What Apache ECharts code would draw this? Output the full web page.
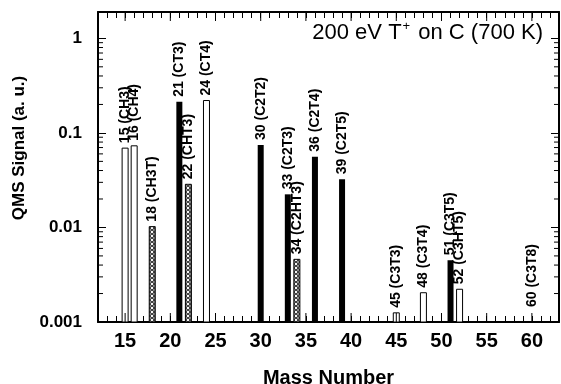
<!DOCTYPE html>
<html>
<head>
<meta charset="utf-8">
<script src="https://cdn.jsdelivr.net/npm/echarts@6/dist/echarts.min.js"></script>
<style>
  html, body { margin: 0; padding: 0; background: #fff; }
  #chart { width: 561px; height: 384px; }
</style>
</head>
<body>
<div id="chart"></div>
<script>
// mass number, species and QMS signal
const masses  = [15, 16, 18, 21, 22, 24, 30, 33, 34, 36, 39, 45, 48, 51, 52, 60];
const species = ['CH3', 'CH4', 'CH3T', 'CT3', 'CHT3', 'CT4', 'C2T2', 'C2T3', 'C2HT3', 'C2T4', 'C2T5', 'C3T3', 'C3T4', 'C3T5', 'C3HT5', 'C3T8'];
const signals = [0.069, 0.073, 0.0102, 0.213, 0.0286, 0.22, 0.0745, 0.0224, 0.0046, 0.056, 0.0323, 0.00125, 0.00204, 0.0045, 0.00222, 0.001];
const kinds   = ['open', 'open', 'hatched', 'solid', 'hatched', 'open', 'solid', 'solid', 'hatched', 'solid', 'solid', 'open', 'open', 'solid', 'open', 'open'];

const xMin = 12, xMax = 63;
const yMin = 0.001, yMax = 1.9;
const yTickLabels = ['0.001', '0.01', '0.1', '1'];

const FONT = "'Liberation Sans', Arial, sans-serif";
const BAR_W = 6;

// hatched fill (small rings)
const pat = document.createElement('canvas');
pat.width = 4; pat.height = 4;
const pc = pat.getContext('2d');
pc.fillStyle = '#fff';
pc.fillRect(0, 0, 4, 4);
pc.strokeStyle = '#000';
pc.lineWidth = 1;
pc.beginPath();
pc.arc(2, 2, 1.4, 0, Math.PI * 2);
pc.stroke();

const fills = {
    solid:   { fill: '#000', stroke: null },
    open:    { fill: '#fff', stroke: '#000' },
    hatched: { fill: { image: pat, repeat: 'repeat' }, stroke: '#000' }
};

// minor log ticks (2..9 per decade) and longer x ticks at every 5
const minorY = [];
for (let e = -3; e <= 0; e++) {
    for (let k = 2; k <= 9; k++) {
        const v = k * Math.pow(10, e);
        if (v < yMax) minorY.push([xMin, v]);
    }
}
const majorX = [];
for (let m = 15; m < xMax; m += 5) majorX.push([m, yMin]);

const chart = echarts.init(document.getElementById('chart'));

const xBase = {
    type: 'value', min: xMin, max: xMax, interval: 1,
    axisLine: { show: true, lineStyle: { color: '#000', width: 2 } },
    axisTick: { show: true, inside: true, length: 6, lineStyle: { color: '#000', width: 1 } },
    splitLine: { show: false }
};
const yBase = {
    type: 'log', logBase: 10, min: yMin, max: yMax,
    axisLine: { show: true, lineStyle: { color: '#000', width: 2 } },
    axisTick: { show: true, inside: true, length: 8, lineStyle: { color: '#000', width: 1 } },
    splitLine: { show: false }
};

// bars drawn from the axis minimum (a log bar would otherwise grow from 1)
function renderBar(params, api) {
    const i = params.dataIndex;
    const top = api.coord([api.value(0), api.value(1)]);
    const base = api.coord([api.value(0), yMin]);
    const f = fills[kinds[i]];
    const h = base[1] - top[1];
    const children = [];
    if (h > 0) {
        children.push({
            type: 'rect',
            shape: { x: top[0] - BAR_W / 2, y: top[1], width: BAR_W, height: h },
            style: { fill: f.fill, stroke: f.stroke, lineWidth: 1 }
        });
    }
    children.push({
        type: 'text',
        x: top[0],
        y: top[1] - (h > 0 ? 5 : 15),
        rotation: Math.PI / 2,
        style: {
            text: masses[i] + ' (' + species[i] + ')',
            font: 'bold 14px "Liberation Sans", Arial, sans-serif',
            align: 'left',
            verticalAlign: 'middle',
            fill: '#000'
        }
    });
    return { type: 'group', children: children };
}

chart.setOption({
    animation: false,
    backgroundColor: '#fff',
    title: {
        text: '200 eV T{sup|+} on C (700 K)',
        right: 13,
        top: 15,
        textStyle: {
            fontFamily: FONT, fontSize: 22, fontWeight: 'normal', color: '#000', lineHeight: 26,
            rich: { sup: { fontFamily: FONT, fontSize: 13, color: '#000', verticalAlign: 'top', lineHeight: 26, padding: [0, 2, 0, 1] } }
        }
    },
    grid: { left: 98, right: 2, top: 12, bottom: 62, outerBoundsMode: 'none', containLabel: false },
    xAxis: [
        Object.assign({}, xBase, {
            position: 'bottom',
            name: 'Mass Number',
            nameLocation: 'middle',
            nameGap: 46,
            nameTextStyle: { fontFamily: FONT, fontSize: 20, fontWeight: 'bold', color: '#000' },
            axisLabel: {
                margin: 9,
                fontFamily: FONT, fontSize: 20, fontWeight: 'bold', color: '#000',
                formatter: v => (v % 5 === 0 ? String(v) : '')
            }
        }),
        Object.assign({}, xBase, { position: 'top', axisLabel: { show: false } })
    ],
    yAxis: [
        Object.assign({}, yBase, {
            position: 'left',
            name: 'QMS Signal (a. u.)',
            nameLocation: 'middle',
            nameGap: 70,
            nameTextStyle: { fontFamily: FONT, fontSize: 17, fontWeight: 'bold', color: '#000', padding: [0, 0, 0, 38] },
            axisLabel: {
                margin: 16,
                showMaxLabel: false,
                fontFamily: FONT, fontSize: 17, fontWeight: 'bold', color: '#000',
                padding: [12, 0, 0, 0],
                formatter: v => {
                    const lg = Math.log10(v);
                    return Math.abs(lg - Math.round(lg)) < 1e-6 ? (yTickLabels[Math.round(lg) + 3] || '') : '';
                }
            }
        }),
        Object.assign({}, yBase, { position: 'right', axisLabel: { show: false } })
    ],
    series: [
        {
            type: 'custom',
            data: masses.map((m, i) => [m, signals[i]]),
            renderItem: renderBar,
            clip: false
        },
        {
            type: 'custom',
            silent: true,
            data: minorY,
            renderItem: (params, api) => {
                const cs = params.coordSys;
                const p = api.coord([api.value(0), api.value(1)]);
                return {
                    type: 'group',
                    children: [
                        { type: 'line', shape: { x1: cs.x, y1: p[1], x2: cs.x + 5, y2: p[1] }, style: { stroke: '#000', lineWidth: 1 } },
                        { type: 'line', shape: { x1: cs.x + cs.width - 5, y1: p[1], x2: cs.x + cs.width, y2: p[1] }, style: { stroke: '#000', lineWidth: 1 } }
                    ]
                };
            }
        },
        {
            type: 'custom',
            silent: true,
            data: majorX,
            renderItem: (params, api) => {
                const cs = params.coordSys;
                const p = api.coord([api.value(0), api.value(1)]);
                return {
                    type: 'group',
                    children: [
                        { type: 'line', shape: { x1: p[0], y1: cs.y + cs.height, x2: p[0], y2: cs.y + cs.height - 9 }, style: { stroke: '#000', lineWidth: 1 } },
                        { type: 'line', shape: { x1: p[0], y1: cs.y, x2: p[0], y2: cs.y + 9 }, style: { stroke: '#000', lineWidth: 1 } }
                    ]
                };
            }
        }
    ]
});
</script>
</body>
</html>
